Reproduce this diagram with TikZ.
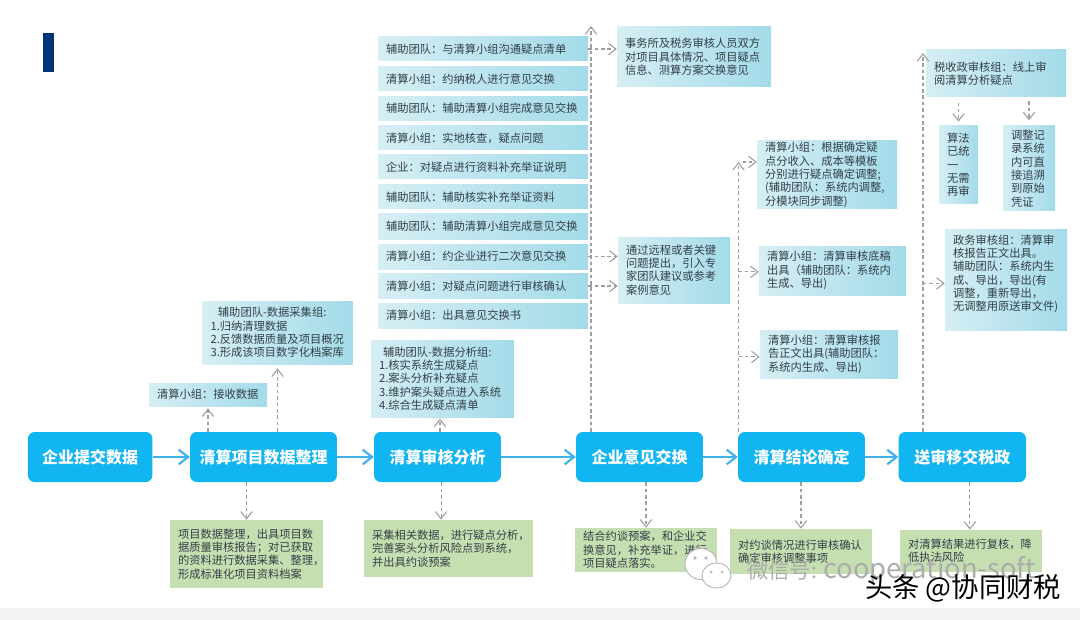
\documentclass[tikz,border=0pt]{standalone}
\usepackage{fontspec}
\setmainfont{Noto Sans CJK SC}
\usepackage{xcolor}
\usetikzlibrary{arrows.meta, positioning, shapes.geometric}

\definecolor{stageblue}{HTML}{10B5F2}
\definecolor{flowblue}{HTML}{3FB2EC}
\definecolor{cardleft}{HTML}{D6EEF4}
\definecolor{cardright}{HTML}{A3DBE9}
\definecolor{notegreen}{HTML}{C6DFB1}
\definecolor{inkgray}{HTML}{333F48}
\definecolor{dashgray}{HTML}{9E9E9E}
\definecolor{barnavy}{HTML}{003478}
\definecolor{footgray}{HTML}{F1F2F4}

\begin{document}
\begin{tikzpicture}[
    x=0.75pt, y=-0.75pt,
    every node/.style={font=\fontsize{8.45}{10}\selectfont, align=left, inner sep=0pt, text=inkgray},
    stagebox/.style={
      rectangle, rounded corners=5pt, fill=stageblue, align=center, text=white,
      font=\fontsize{12}{14}\selectfont\bfseries, minimum height=37.5pt
    },
    card/.style 2 args={
      rectangle, left color=cardleft, right color=cardright,
      minimum width=#1*0.75pt, minimum height=#2*0.75pt, text width=(#1-16)*0.75pt
    },
    note/.style 2 args={
      rectangle, fill=notegreen,
      minimum width=#1*0.75pt, minimum height=#2*0.75pt, text width=(#1-16)*0.75pt
    },
    flow/.style={-{Straight Barb[length=7pt, width=11pt]}, line width=1.6pt, flowblue},
    dsh/.style={-{Straight Barb[length=5.5pt, width=8.5pt]}, line width=0.8pt, dashgray,
      dash pattern=on 2.6pt off 2.2pt}
  ]
    \useasboundingbox (0,0) rectangle (1080,620);

    % Page furniture
    \fill[footgray] (0,608) rectangle (1080,620);
    \fill[barnavy] (43,33) rectangle (54,72);

    % Stages
    \node[stagebox, minimum width=93.4pt]  (submit)  at (90.2,457)  {企业提交数据};
    \node[stagebox, minimum width=110.2pt] (prep)    at (263.5,457) {清算项目数据整理};
    \node[stagebox, minimum width=95.2pt]  (review)  at (437.5,457) {清算审核分析};
    \node[stagebox, minimum width=95.2pt]  (opinion) at (639.5,457) {企业意见交换};
    \node[stagebox, minimum width=95.2pt]  (concl)   at (801.5,457) {清算结论确定};
    \node[stagebox, minimum width=95.6pt]  (deliver) at (962.3,457) {送审移交税政};

    \draw[flow] (submit.east) -- (prep.west);
    \draw[flow] (prep.east) -- (review.west);
    \draw[flow] (review.east) -- (opinion.west);
    \draw[flow] (opinion.east) -- (concl.west);
    \draw[flow] (concl.east) -- (deliver.west);

    % Green notes below
    \node[note={153}{68}]  (noteprep)    at (246.5,554)   {项目数据整理，出具项目数\\据质量审核报告；对已获取\\的资料进行数据采集、整理，\\形成标准化项目资料档案};
    \node[note={169}{57}]  (notereview)  at (448.5,548.5) {采集相关数据，进行疑点分析，\\完善案头分析风险点到系统，\\并出具约谈预案};
    \node[note={142}{44}]  (noteopinion) at (646,550)     {结合约谈预案，和企业交\\换意见，补充举证，进行\\项目疑点落实。};
    \node[note={142}{45}]  (noteconcl)   at (801,551.5)   {对约谈情况进行审核确认\\确定审核调整事项};
    \node[note={142}{42}]  (notedeliver) at (971,551)     {对清算结果进行复核，降\\低执法风险};

    \draw[dsh] (prep.south -| noteprep.north) -- (noteprep.north);
    \draw[dsh] ([xshift=-5.6pt]review.south -| notereview.north) -- ([xshift=-5.6pt]notereview.north);
    \draw[dsh] (opinion.south -| noteopinion.north) -- (noteopinion.north);
    \draw[dsh] (concl.south -| noteconcl.north) -- (noteconcl.north);
    \draw[dsh] ([xshift=-0.8pt]deliver.south -| notedeliver.north) -- ([xshift=-0.8pt]notedeliver.north);

    % Data preparation cards
    \node[card={118}{23}]  (recv)    at (208,394.5)   {清算小组：接收数据};
    \node[card={150}{63}]  (collect) at (277.5,332.5) {\hspace*{5.6pt}辅助团队-数据采集组:\\1.归纳清理数据\\2.反馈数据质量及项目概况\\3.形成该项目数字化档案库};
    \node[card={143}{77}]  (analyse) at (442.5,378.5) {\hspace*{3pt}辅助团队-数据分析组:\\1.核实系统生成疑点\\2.案头分析补充疑点\\3.维护案头疑点进入系统\\4.综合生成疑点清单};

    \draw[dsh, shorten >=1.5pt] (prep.north -| recv.south) -- (recv.south);
    \draw[dsh, shorten >=3pt] (prep.north -| collect.south) -- (collect.south);
    \draw[dsh, shorten >=1pt] ([xshift=-1.9pt]review.north -| analyse.south) -- ([xshift=-1.9pt]analyse.south);

    % Opinion exchange rows
    \node[card={210}{24}] (rowa) at (483,49)    {辅助团队：与清算小组沟通疑点清单};
    \node[card={210}{24}] (rowb) at (483,79)    {清算小组：约纳税人进行意见交换};
    \node[card={210}{24}] (rowc) at (483,108.5) {辅助团队：辅助清算小组完成意见交换};
    \node[card={210}{24}] (rowd) at (483,138)   {清算小组：实地核查，疑点问题};
    \node[card={210}{24}] (rowe) at (483,167)   {企业：对疑点进行资料补充举证说明};
    \node[card={210}{24}] (rowf) at (483,197)   {辅助团队：辅助核实补充举证资料};
    \node[card={210}{25}] (rowg) at (483,226.5) {辅助团队：辅助清算小组完成意见交换};
    \node[card={210}{25}] (rowh) at (483,256.5) {清算小组：约企业进行二次意见交换};
    \node[card={210}{25}] (rowi) at (483,286)   {清算小组：对疑点问题进行审核确认};
    \node[card={210}{25}] (rowj) at (483,315.5) {清算小组：出具意见交换书};

    \node[card={154}{60}]  (swap)   at (694,57)  {事务所及税务审核人员双方\\对项目具体情况、项目疑点\\信息、测算方案交换意见};
    \node[card={112}{66}]  (expert) at (674,270) {通过远程或者关键\\问题提出，引入专\\家团队建议或参考\\案例意见};

    \coordinate (swaptop) at (591,26);
    \draw[dsh] (opinion.north -| swaptop) -- (swaptop);
    \draw[dsh] (rowa.east) -- (rowa.east -| swap.west);
    \draw[dsh] (rowh.east) -- (rowh.east -| expert.west);
    \draw[dsh] (rowi.east) -- (rowi.east -| expert.west);

    % Conclusion cards
    \node[card={140}{68}]  (adjust) at (827,175)   {清算小组：根据确定疑\\点分收入、成本等模板\\分别进行疑点确定调整;\\(辅助团队：系统内调整,\\分模块同步调整)};
    \node[card={147}{49}]  (draft)  at (832.5,270.5) {清算小组：清算审核底稿\\出具（辅助团队：系统内\\生成、导出)};
    \node[card={138}{48}]  (report) at (829,354)   {清算小组：清算审核报\\告正文出具(辅助团队：\\系统内生成、导出)};

    \coordinate (conctop) at (738.5,162);
    \draw[dsh] (concl.north -| conctop) -- (conctop);
    \draw[dsh] ([xshift=3pt]conctop) -- (conctop -| adjust.west);
    \draw[dsh] ([yshift=-1pt]draft.west -| conctop) -- ([yshift=-1pt]draft.west);
    \draw[dsh] ([yshift=-2.2pt]report.west -| conctop) -- ([yshift=-2.2pt]report.west);

    % Tax office cards
    \node[card={140}{47}]  (taxaudit) at (996,73.5)   {税收政审核组：线上审\\阅清算分析疑点};
    \node[card={39}{78}]   (algo)     at (958.5,165)  {算法\\已统\\一\\无需\\再审};
    \node[card={52}{85}]   (trace)    at (1029,168.5) {调整记\\录系统\\内可直\\接追溯\\到原始\\凭证};
    \node[card={122}{101}] (govaudit) at (1006,279.5) {政务审核组：清算审\\核报告正文出具。\\辅助团队：系统内生\\成、导出，导出(有\\调整，重新导出，\\无调整用原送审文件)\\~};

    \coordinate (taxtop) at (923,53);
    \draw[dsh] (deliver.north -| taxtop) -- (taxtop);
    \draw[dsh] ([yshift=-3pt]govaudit.west -| taxtop) -- ([yshift=-3pt]govaudit.west);
    \draw[dsh, shorten <=4pt, shorten >=3pt] (taxaudit.south -| algo.north) -- (algo.north);
    \draw[dsh, shorten <=3pt, shorten >=4pt] (taxaudit.south -| trace.north) -- (trace.north);

    % Watermark
    \draw[gray!55, fill=white, line width=0.7pt] (701,564) ellipse (16 and 15.5);
    \draw[gray!55, fill=white, line width=0.7pt] (716.5,575.5) ellipse (14.5 and 12.5);
    \fill[gray!55] (695,558) circle (1.8) (706,558) circle (1.8) (711,572) circle (1.5) (722,572) circle (1.5);
    \node[font=\fontsize{16}{18}\selectfont, text=gray!65] (wxmark) at (891.5,571) {微信号: {\fontsize{20.5}{22}\selectfont cooperation-soft}};
    \node[font=\fontsize{20.5}{22}\selectfont, text=black] (ttmark) at (963,588) {头条 @协同财税};

\end{tikzpicture}
\end{document}
